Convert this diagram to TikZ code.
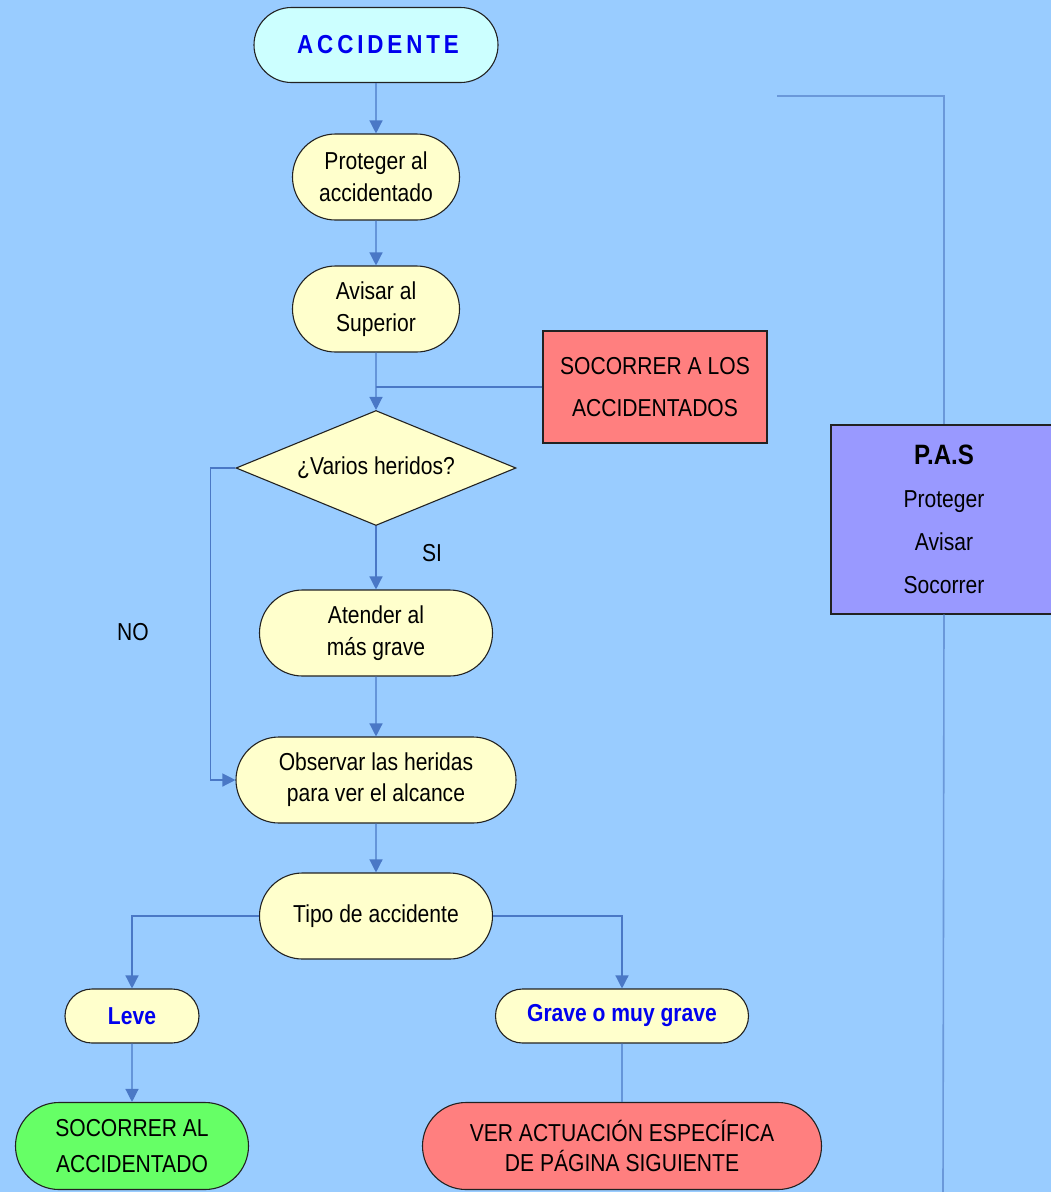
\documentclass[tikz,border=0pt]{standalone}
\usepackage{fontspec}
\setmainfont[FakeStretch=0.86]{Liberation Sans}
\usepackage{tikz}
\usetikzlibrary{shapes,arrows.meta,positioning}
\definecolor{fondo}{HTML}{99CCFF}
\definecolor{crema}{HTML}{FFFFCC}
\definecolor{celeste}{HTML}{CCFFFF}
\definecolor{rojo}{HTML}{FF7F7F}
\definecolor{verde}{HTML}{66FF66}
\definecolor{lila}{HTML}{9999FF}
\definecolor{flecha}{HTML}{4A78C6}
\definecolor{lado}{HTML}{6A98DA}
\definecolor{borde}{HTML}{222222}
\definecolor{azul}{HTML}{0000EE}
\tikzstyle{term} = [rounded rectangle, draw=borde, fill=crema, line width=1.1pt, inner sep=0pt, align=center, font=\fontsize{24.5}{32}\selectfont]
\tikzstyle{caja} = [rectangle, draw=borde, line width=1.1pt, inner sep=0pt, align=center]
\tikzstyle{line} = [draw=flecha, line width=1.3pt]
\tikzstyle{arrow} = [line, -{Triangle[width=13pt,length=13pt]}]
\tikzstyle{sideline} = [draw=lado, line width=1.6pt]
\tikzstyle{etiq} = [inner sep=0pt, font=\fontsize{24.5}{30}\selectfont]

\begin{document}
\begin{tikzpicture}[x=1pt,y=-1pt]
	\clip (0,0) rectangle (1051,1192);
	\fill[fondo] (0,0) rectangle (1051,1192);

	\node [term, fill=celeste, minimum width=244pt, minimum height=75pt, font=\fontsize{26}{30}\selectfont\bfseries\addfontfeature{LetterSpace=15}, text=azul] (acc) at (376,45) {\hspace*{4pt}ACCIDENTE};
	\node [term, minimum width=167pt, minimum height=86pt] (proteger) at (376,177) {Proteger al\\accidentado};
	\node [term, minimum width=167pt, minimum height=86pt] (avisar) at (376,309) {Avisar al\\Superior};
	\node [caja, fill=rojo, minimum width=224pt, minimum height=112pt, font=\fontsize{24.5}{42}\selectfont] (socorrer) at (655,387) {SOCORRER A LOS\\ACCIDENTADOS};
	\node [diamond, draw=borde, fill=crema, line width=1.1pt, inner sep=0pt, aspect=2.43, minimum width=280pt, minimum height=115pt, font=\fontsize{24.5}{30}\selectfont] (varios) at (376,468) {¿Varios heridos?};
	\node [term, minimum width=233pt, minimum height=86pt] (atender) at (376,633) {Atender al\\más grave};
	\node [term, minimum width=280pt, minimum height=86pt, font=\fontsize{24.5}{31}\selectfont] (observar) at (376,780) {Observar las heridas\\para ver el alcance};
	\node [term, minimum width=233pt, minimum height=86pt] (tipo) at (376,916) {Tipo de accidente};
	\node [term, minimum width=134pt, minimum height=54pt, text=azul, font=\fontsize{24.5}{30}\selectfont\bfseries] (leve) at (132,1016) {Leve};
	\node [term, minimum width=253pt, minimum height=54pt, text=azul, font=\fontsize{24.5}{30}\selectfont\bfseries] (grave) at (622,1016) {Grave o muy grave};
	\node [term, fill=verde, minimum width=233pt, minimum height=87pt, font=\fontsize{24.5}{36}\selectfont] (alsoc) at (132,1146) {SOCORRER AL\\ACCIDENTADO};
	\node [term, fill=rojo, minimum width=399pt, minimum height=87pt, font=\fontsize{24.5}{30}\selectfont] (ver) at (622,1146) {VER ACTUACIÓN ESPECÍFICA\\DE PÁGINA SIGUIENTE};
	\node [caja, fill=lila, minimum width=226pt, minimum height=189pt, font=\fontsize{24.5}{43}\selectfont] (pas) at (944,519.5) {{\fontsize{28}{43}\selectfont\bfseries P.A.S}\\Proteger\\Avisar\\Socorrer};

	\node [etiq] (si) at (432,553) {SI};
	\node [etiq] (no) at (133,632) {NO};
	\coordinate (topend) at (777,96);
	\coordinate (botend) at (943,1192);

	% flujo principal
	\path [arrow] (acc) -- (proteger);
	\path [arrow] (proteger) -- (avisar);
	\path [arrow] (avisar) -- (varios);
	\path [line] (socorrer.west) -- (socorrer.west -| avisar.south);
	\path [arrow] (varios) -- (atender);
	\path [arrow] (atender) -- (observar);
	\path [arrow] (varios.west) -- ++(-25,0) |- (observar.west);
	\path [arrow] (observar) -- (tipo);
	\path [arrow] (tipo.west) -| (leve.north);
	\path [arrow] (tipo.east) -| (grave.north);
	\path [arrow] (leve) -- (alsoc);
	\path [line] (grave) -- (ver);

	% lateral
	\path [sideline] (topend) -| (pas.north);
	\path [sideline] (pas.south) -- (botend);
\end{tikzpicture}
\end{document}
